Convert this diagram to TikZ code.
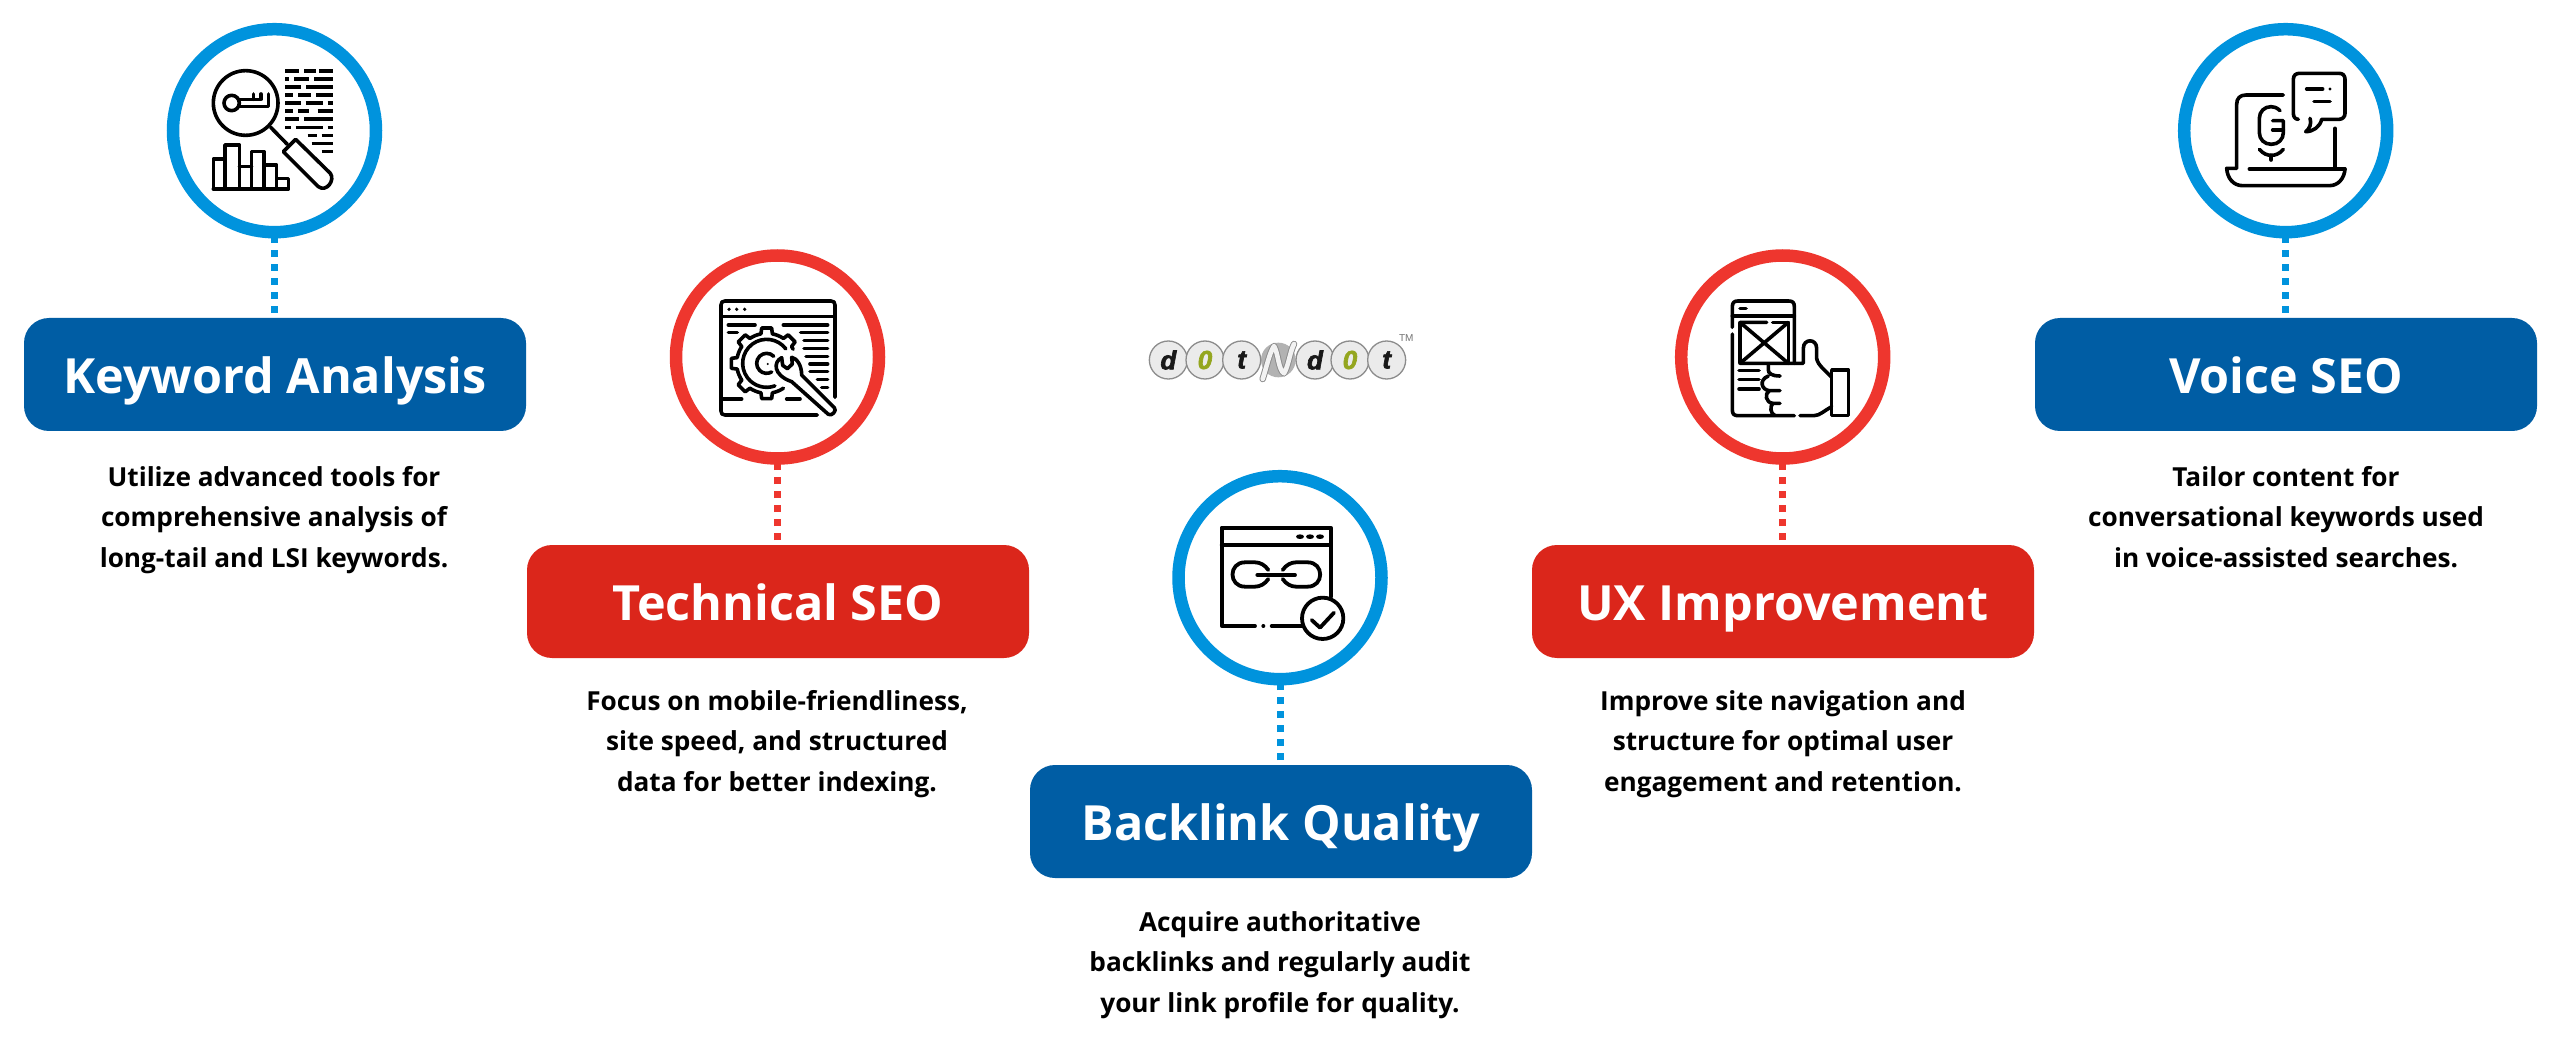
\documentclass[tikz,border=0pt]{standalone}
\usepackage{fontspec}
\setmainfont{Open Sans}
\newfontfamily\logofont{Liberation Sans}[BoldItalicFeatures={FakeBold=2.5}]
\definecolor{ringblue}{HTML}{0093DD}
\definecolor{ringred}{HTML}{EE362E}
\definecolor{boxblue}{HTML}{005DA4}
\definecolor{boxred}{HTML}{DB261B}
\definecolor{logoface}{HTML}{EBEBEB}
\definecolor{logoedge}{HTML}{8C8C8C}
\definecolor{logogreen}{HTML}{94A61F}
\tikzset{
 titlebox/.style={rectangle,rounded corners=25pt,minimum width=502pt,minimum height=113pt,inner sep=0pt,outer sep=0pt,text=white,text height=38pt,text depth=0pt,font=\fontsize{48.5}{54}\selectfont\bfseries},
 ringnode/.style={circle,draw,line width=12.5pt,minimum size=203pt,inner sep=0pt,outer sep=0pt,fill=white},
 bodytext/.style={align=center,inner sep=0pt,text=black,font=\fontsize{26.2}{40.5}\selectfont\bfseries,execute at begin node=\strut,execute at end node=\strut},
 dots/.style={line width=7pt,dash pattern=on 7pt off 7pt,dash phase=9pt},
 ico/.style={line width=3.6pt,line cap=round,line join=round,black},
 zoomed/.style={scale=1/3},
 logoball/.style={circle,draw=logoedge,line width=1.3pt,fill=logoface,minimum size=38pt,inner sep=0pt,outer sep=0pt},
 logoletter/.style={font=\logofont\fontsize{26}{26}\selectfont\bfseries\itshape},
}
\begin{document}
\begin{tikzpicture}[x=1pt,y=-1pt]
\useasboundingbox (0,0) rectangle (2560,1048);
\fill[white] (0,0) rectangle (2560,1048);
% ---- boxes
\node[titlebox,fill=boxblue] (b1) at (275,374.5) {Keyword Analysis};
\node[titlebox,fill=boxred]  (b2) at (778,601.5) {Technical SEO};
\node[titlebox,fill=boxblue] (b3) at (1281,821.5) {Backlink Quality};
\node[titlebox,fill=boxred]  (b4) at (1783,601.5) {UX Improvement};
\node[titlebox,fill=boxblue] (b5) at (2286,374.5) {Voice SEO};
% ---- circles
\node[ringnode,draw=ringblue] (c1) at (274.5,130.7) {};
\node[ringnode,draw=ringred]  (c2) at (777.5,357) {};
\node[ringnode,draw=ringblue] (c3) at (1280,577.7) {};
\node[ringnode,draw=ringred]  (c4) at (1782.7,357) {};
\node[ringnode,draw=ringblue] (c5) at (2285.7,130.7) {};
% ---- connectors
\coordinate (a1) at (c1.south|-b1.north); \draw[dots,ringblue] (a1) -- (c1.south);
\coordinate (a2) at (c2.south|-b2.north); \draw[dots,ringred]  (a2) -- (c2.south);
\coordinate (a3) at (c3.south|-b3.north); \draw[dots,ringblue] (a3) -- (c3.south);
\coordinate (a4) at (c4.south|-b4.north); \draw[dots,ringred]  (a4) -- (c4.south);
\coordinate (a5) at (c5.south|-b5.north); \draw[dots,ringblue] (a5) -- (c5.south);
% ---- body text
\node[bodytext] (t1) at (274,523) {Utilize advanced tools for\\comprehensive analysis of\\long-tail and LSI keywords.};
\node[bodytext] (t2) at (777,747) {Focus on mobile-friendliness,\\site speed, and structured\\data for better indexing.};
\node[bodytext] (t3) at (1280,968) {Acquire authoritative\\backlinks and regularly audit\\your link profile for quality.};
\node[bodytext] (t4) at (1783,747) {Improve site navigation and\\structure for optimal user\\engagement and retention.};
\node[bodytext] (t5) at (2286,523) {Tailor content for\\conversational keywords used\\in voice-assisted searches.};
% ---- icon 1: keyword analysis
\begin{scope}[shift={(150,10)},zoomed,ico]
 \draw (287,279) circle (97);
 \draw (245,279) circle (23);
 \draw (268,290) -- (355,290) -- (355,252) (268,268) -- (333,268) -- (333,252) (310,268) -- (310,252);
 \draw (362,352) -- (412,403);
 \draw (400,425) -- (437,388) -- (541,490) .. controls (556,510) and (530,548) .. (505,530) -- cycle;
 \draw (190,537) -- (415,537) -- (415,505) -- (380,505) -- (380,537);
 \draw (190,537) -- (190,447) -- (225,447) -- (225,537);
 \draw (225,447) -- (225,405) -- (268,405) -- (268,537);
 \draw (268,470) -- (305,470) (305,537) -- (305,425) -- (342,425) -- (342,537);
 \draw (342,465) -- (380,465) -- (380,505);
 \foreach \ya/\xa/\xb in {183/405/448,183/462/497,183/508/550,207/405/418,207/432/478,207/492/550,231/405/453,231/468/550,255/405/430,255/445/483,255/498/550,279/405/452,279/467/520,279/533/550,303/405/430,303/445/478,303/503/550,327/405/447,327/462/550,352/405/423,352/437/520,352/533/550,377/473/500,377/515/550,401/485/550,425/515/550}
  \draw[line cap=butt] (\xa,\ya) -- (\xb,\ya);
\end{scope}
% ---- icon 2: technical seo
\begin{scope}[shift={(660,240)},zoomed,ico]
 \draw (472,525) -- (195,525) .. controls (187,525) and (183,521) .. (183,513) -- (183,195) .. controls (183,187) and (187,183) .. (195,183) -- (513,183) .. controls (521,183) and (525,187) .. (525,195) -- (525,472);
 \draw (183,230) -- (525,230);
 \foreach \xa in {207,230,254} \fill (\xa,208) circle (5.5);
 \foreach \ya/\xa/\xb in {255/205/285,255/370/503,278/205/232,278/422/503,302/432/503,325/432/503,349/438/503,372/450/503,395/450/503,418/472/503,442/485/503,477/190/245,477/380/420}
  \draw (\xa,\ya) -- (\xb,\ya);
 \begin{scope}[shift={(320,370)}]
  \draw (-28:90) arc[start angle=-28,end angle=-34,radius=90]
   \foreach \a in {-45,-90,-135,-180,-225,-270} {
    -- ({\a+8}:107) -- ({\a-8}:107) -- ({\a-11}:90)
    arc[start angle=\a-11,end angle=\a-34,radius=90]
   };
  \draw (-37:72) arc[start angle=-37,end angle=-290,radius=72];
  \draw (-45:30) arc[start angle=-45,end angle=-300,radius=30];
  \fill (3,2) circle (3.5);
 \end{scope}
 \draw[fill=white] (365,353) .. controls (340,365) and (338,405) .. (395,425) -- (505,523) .. controls (515,530) and (532,512) .. (523,503) -- (425,405) .. controls (425,375) and (410,355) .. (395,352) -- (397,372) -- (382,386) -- (368,376) -- cycle;
\end{scope}
% ---- icon 3: backlink
\begin{scope}[shift={(1140,310)},zoomed,ico,line width=3.8pt]
 \draw (345,948) -- (245,948) -- (245,653) -- (573,653) -- (573,860);
 \fill (370,948) circle (6);
 \draw (395,948) -- (490,948);
 \draw (245,705) -- (573,705);
 \foreach \xa in {480,510,540} \fill (\xa,680) ellipse (12 and 7);
 \draw (385,780) .. controls (375,765) and (360,757) .. (345,757) -- (315,757) .. controls (265,757) and (265,830) .. (315,830) -- (345,830) .. controls (360,830) and (375,822) .. (385,807);
 \draw (428,780) .. controls (438,765) and (453,757) .. (468,757) -- (503,757) .. controls (553,757) and (553,830) .. (503,830) -- (468,830) .. controls (453,830) and (438,822) .. (428,807);
 \draw (352,795) -- (465,795);
 \draw[fill=white] (548,925) circle (62);
 \draw (515,930) -- (540,953) -- (582,908);
\end{scope}
% ---- icon 4: ux improvement
\begin{scope}[shift={(1660,240)},zoomed,ico]
 \draw (217,262) -- (217,200) .. controls (217,188) and (222,183) .. (234,183) -- (386,183) .. controls (398,183) and (403,188) .. (403,200) -- (403,370);
 \draw (217,282) -- (217,510) .. controls (217,522) and (222,527) .. (234,527) -- (403,527);
 \draw (420,527) -- (462,527) .. controls (480,527) and (495,510) .. (515,500);
 \draw (217,228) -- (403,228);
 \draw (240,205) -- (258,205);
 \draw (320,247) -- (240,247) -- (240,370) -- (430,370) -- (430,325) .. controls (430,295) and (470,295) .. (470,325) -- (470,355) .. controls (472,375) and (500,395) .. (515,412);
 \draw (338,247) -- (385,247) -- (385,370);
 \draw (240,247) -- (385,370) (385,247) -- (240,370);
 \draw (515,390) -- (565,390) -- (565,527) -- (515,527) -- cycle;
 \foreach \ya in {392,418,447} \draw (237,\ya) -- (297,\ya);
 \draw (325,372) -- (325,390) .. controls (325,400) and (335,408) .. (360,408);
 \draw (325,408) .. controls (295,420) and (305,450) .. (328,452) -- (360,452);
 \draw (328,452) .. controls (312,462) and (318,488) .. (338,490) -- (360,490);
 \draw (338,490) .. controls (330,500) and (330,520) .. (345,527);
\end{scope}
% ---- icon 5: voice seo
\begin{scope}[shift={(2170,10)},zoomed,ico]
 \draw (340,255) -- (228,255) .. controls (210,255) and (200,265) .. (200,283) -- (200,473);
 \draw (495,355) -- (495,473);
 \draw (238,477) -- (525,477);
 \draw (200,475) -- (170,475) .. controls (172,505) and (190,527) .. (218,527) -- (478,527) .. controls (505,527) and (523,505) .. (525,477);
 \draw (385,328) .. controls (375,328) and (370,320) .. (370,310) -- (370,208) .. controls (370,196) and (378,190) .. (388,190) -- (507,190) .. controls (518,190) and (525,196) .. (525,208) -- (525,310) .. controls (525,320) and (518,328) .. (507,328) -- (455,328) .. controls (450,350) and (430,365) .. (407,365) .. controls (420,355) and (425,340) .. (420,325);
 \draw (410,237) -- (458,237) (432,274) -- (480,274);
 \fill (480,237) circle (5);
 \draw (330,302) .. controls (320,292) and (310,290) .. (303,290) .. controls (283,290) and (268,305) .. (268,325) -- (268,368) .. controls (268,388) and (283,403) .. (304,403) .. controls (325,403) and (340,388) .. (340,368) -- (340,332) -- (308,332);
 \draw (308,360) -- (340,360);
 \draw (268,418) .. controls (280,432) and (292,436) .. (304,436) .. controls (316,436) and (328,432) .. (340,418);
 \draw (303,436) -- (303,450);
\end{scope}
% ---- logo
\begin{scope}[shift={(1130,320)},zoomed]
 \fill[black!30] (445,120) circle (52);
 \draw[line width=6.5pt,logoedge,line join=round,line cap=round] (398,177) .. controls (410,140) and (418,100) .. (432,78) .. controls (445,100) and (445,150) .. (462,160) .. controls (475,140) and (480,95) .. (492,72);
 \draw[line width=4.6pt,white!95!black,line join=round,line cap=round] (398,177) .. controls (410,140) and (418,100) .. (432,78) .. controls (445,100) and (445,150) .. (462,160) .. controls (475,140) and (480,95) .. (492,72);
 \node[logoball] (l1) at (115,120) {};
 \node[logoball] (l2) at (225,120) {};
 \node[logoball] (l3) at (335,120) {};
 \node[logoball] (l5) at (555,120) {};
 \node[logoball] (l6) at (660,120) {};
 \node[logoball] (l7) at (770,120) {};
 \node[logoletter,text=black!90] at (l1) {d};
 \node[logoletter,text=logogreen] at (l2) {0};
 \node[logoletter,text=black!90] at (l3) {t};
 \node[logoletter,text=black!90] at (l5) {d};
 \node[logoletter,text=logogreen] at (l6) {0};
 \node[logoletter,text=black!90] at (l7) {t};
 \node[text=black!55,inner sep=0pt,font=\logofont\fontsize{10}{10}\selectfont] (tm) at (829,55) {TM};
\end{scope}
\end{tikzpicture}
\end{document}
